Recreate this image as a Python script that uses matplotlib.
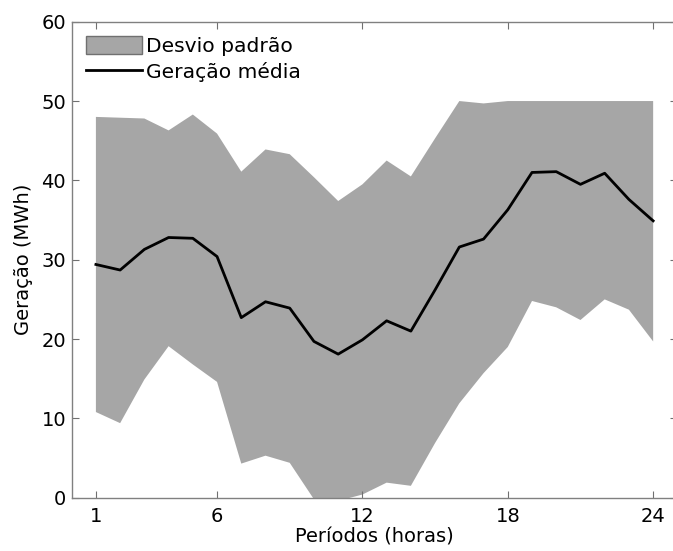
import matplotlib
matplotlib.use("Agg")
import matplotlib.pyplot as plt
import numpy as np

# Geração horária: média e faixa de desvio padrão
periods = np.arange(1, 25)
upper = [48.0, 47.9, 47.8, 46.3, 48.3, 45.9, 41.1, 43.9, 43.3, 40.4, 37.4, 39.5,
         42.5, 40.5, 45.3, 50.0, 49.7, 50.0, 50.0, 50.0, 50.0, 50.0, 50.0, 50.0]
lower = [10.8, 9.4, 14.9, 19.1, 16.8, 14.6, 4.3, 5.3, 4.4, -0.2, -0.4, 0.4,
         1.9, 1.5, 6.9, 11.9, 15.7, 19.0, 24.8, 24.0, 22.4, 25.0, 23.7, 19.7]
mean = [29.4, 28.7, 31.3, 32.8, 32.7, 30.4, 22.7, 24.7, 23.9, 19.7, 18.1, 19.9,
        22.3, 21.0, 26.2, 31.6, 32.6, 36.3, 41.0, 41.1, 39.5, 40.9, 37.6, 34.9]
xticks = [1, 6, 12, 18, 24]

plt.rcParams["font.family"] = ["DejaVu Sans"]

fig = plt.figure(figsize=(6.73, 5.51), dpi=100)
# right spine sits just past the image edge, as in the original
ax = fig.add_axes([0.1065, 0.0967, 0.9000, 0.8639])

ax.fill_between(periods, lower, upper, facecolor="#a6a6a6", edgecolor="none",
                label="Desvio padrão")
ax.plot(periods, mean, color="black", linewidth=2.0, label="Geração média")

ax.set_xlim(0, 25)
ax.set_ylim(0, 60)
ax.set_xticks(xticks)
ax.set_yticks(np.arange(0, 61, 10))
ax.tick_params(direction="in", length=5, width=0.8, color="#707070",
               labelsize=14, top=True, right=True, pad=4)
ax.tick_params(axis="x", pad=7)
for sp in ax.spines.values():
    sp.set_color("#808080")
    sp.set_linewidth(1.0)

ax.set_xlabel("Períodos (horas)", fontsize=14, labelpad=1)
ax.set_ylabel("Geração (MWh)", fontsize=14, labelpad=6)

handles, labels = ax.get_legend_handles_labels()
leg = ax.legend(handles, labels, loc="upper left", frameon=False, fontsize=14.6,
                handlelength=2.75, handleheight=1.0, handletextpad=0.2,
                borderaxespad=0.3, labelspacing=0.3)
leg.legend_handles[0].set_edgecolor("#707070")

fig.savefig("out.png", dpi=100)
